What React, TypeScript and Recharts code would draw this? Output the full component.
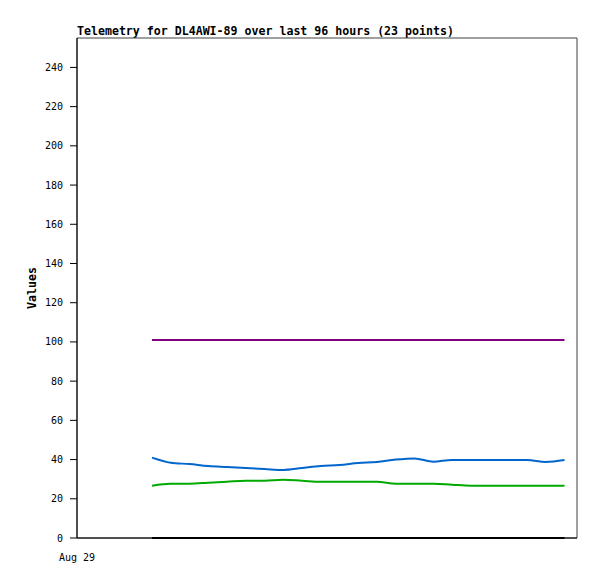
import { LineChart, Line, XAxis, YAxis, ReferenceArea } from 'recharts';

// hours since start of window, 23 samples
const hours = [
  14.4, 18.0, 21.6, 25.2, 28.8, 32.4, 36.0, 39.6, 43.2, 46.8, 50.4, 54.0,
  57.6, 61.2, 64.8, 68.4, 72.0, 75.6, 79.2, 82.8, 86.4, 90.0, 93.6,
];
const channel1 = [
  101, 101, 101, 101, 101, 101, 101, 101, 101, 101, 101, 101,
  101, 101, 101, 101, 101, 101, 101, 101, 101, 101, 101,
];
const channel2 = [
  41.0, 38.4, 37.7, 36.7, 36.2, 35.7, 35.2, 34.7, 35.7, 36.7, 37.2, 38.2,
  38.8, 40.0, 40.6, 38.9, 39.8, 39.8, 39.8, 39.8, 39.8, 38.8, 39.8,
];
const channel3 = [
  26.7, 27.7, 27.7, 28.2, 28.7, 29.2, 29.2, 29.7, 29.2, 28.7, 28.7, 28.7,
  28.7, 27.7, 27.7, 27.7, 27.2, 26.7, 26.7, 26.7, 26.7, 26.7, 26.7,
];
const channel4 = [
  0, 0, 0, 0, 0, 0, 0, 0, 0, 0, 0, 0,
  0, 0, 0, 0, 0, 0, 0, 0, 0, 0, 0,
];
const yTicks = [0, 20, 40, 60, 80, 100, 120, 140, 160, 180, 200, 220, 240];
const xTicks = [0];
const xTickLabels = ['Aug 29'];

const data = hours.map((h, i) => ({
  t: h,
  c1: channel1[i],
  c2: channel2[i],
  c3: channel3[i],
  c4: channel4[i],
}));

const tickFont = { fontFamily: 'DejaVu Sans Mono', fontSize: 10, fill: '#000' };

export default function App() {
  return (
    <div style={{ position: 'absolute', left: 0, top: 0, width: 597, height: 579, background: '#fff' }}>
      <LineChart width={597} height={579} data={data} margin={{ top: 38, right: 20, bottom: 0, left: 0 }}>
        <text x={77} y={35} fontFamily="DejaVu Sans Mono" fontWeight="bold" fontSize={11.6} fill="#000">
          Telemetry for DL4AWI-89 over last 96 hours (23 points)
        </text>
        <ReferenceArea x1={0} x2={96} y1={0} y2={255} fill="none" stroke="#404040" strokeWidth={1} ifOverflow="visible" />
        <XAxis
          type="number"
          dataKey="t"
          domain={[0, 96]}
          ticks={xTicks}
          tickFormatter={(v: number) => xTickLabels[xTicks.indexOf(v)] ?? ''}
          height={41}
          tick={tickFont}
          tickLine={false}
          axisLine={{ stroke: '#000' }}
          tickMargin={10}
        />
        <YAxis
          type="number"
          domain={[0, 255]}
          ticks={yTicks}
          width={77}
          tick={tickFont}
          tickSize={7}
          tickLine={{ stroke: '#000' }}
          axisLine={{ stroke: '#000' }}
          tickMargin={7}
          label={{
            value: 'Values',
            angle: -90,
            position: 'insideLeft',
            offset: 32,
            style: { fontFamily: 'DejaVu Sans Mono', fontWeight: 'bold', fontSize: 11.6, fill: '#000', textAnchor: 'middle' },
          }}
        />
        <Line type="monotone" dataKey="c1" stroke="#800080" strokeWidth={2} dot={false} isAnimationActive={false} />
        <Line type="monotone" dataKey="c2" stroke="#0066cc" strokeWidth={2} dot={false} isAnimationActive={false} />
        <Line type="monotone" dataKey="c3" stroke="#00aa00" strokeWidth={2} dot={false} isAnimationActive={false} />
        <Line type="monotone" dataKey="c4" stroke="#000000" strokeWidth={2} dot={false} isAnimationActive={false} />
      </LineChart>
    </div>
  );
}
